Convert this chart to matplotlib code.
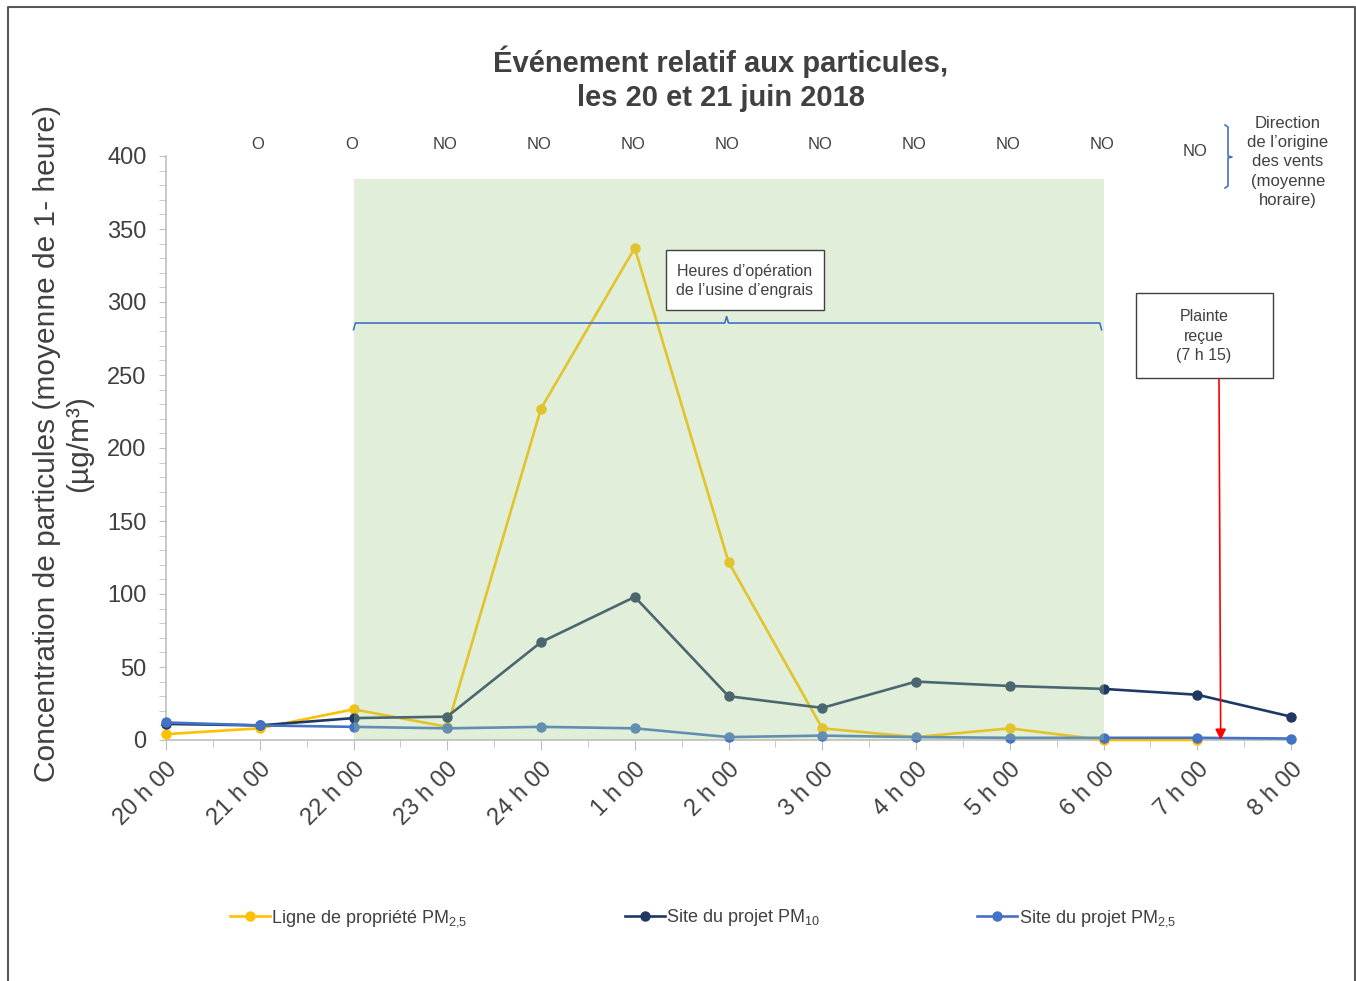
import numpy as np
import matplotlib
matplotlib.use("Agg")
import matplotlib.pyplot as plt
from matplotlib.patches import Rectangle
from matplotlib.lines import Line2D

plt.rcParams['font.family'] = ['Liberation Sans', 'DejaVu Sans']
plt.rcParams['mathtext.fontset'] = 'custom'
plt.rcParams['mathtext.rm'] = 'Liberation Sans'
plt.rcParams['mathtext.default'] = 'rm'

# heures de mesure
hours = ['20 h 00', '21 h 00', '22 h 00', '23 h 00', '24 h 00', '1 h 00', '2 h 00',
         '3 h 00', '4 h 00', '5 h 00', '6 h 00', '7 h 00', '8 h 00']
# direction de l'origine des vents
winds = ['', 'O', 'O', 'NO', 'NO', 'NO', 'NO', 'NO', 'NO', 'NO', 'NO', 'NO', '']

ligne_pm25 = [4, 8, 21, 9, 227, 337, 122, 8, 2, 8, 0, 0, np.nan]
site_pm10 = [11, 10, 15, 16, 67, 98, 30, 22, 40, 37, 35, 31, 16]
site_pm25 = [12, 10, 9, 8, 9, 8, 2, 3, 2, 1.5, 1.5, 1.5, 1]

ops_start, ops_end = 2, 10     # heures d'opération (22 h 00 a 6 h 00)
plainte = 11.25                # 7 h 15

TXT = '#404040'
W, H = 1356, 981


def fx(px):
    return px / W


def fy(py):
    return 1 - py / H


fig = plt.figure(figsize=(W / 100, H / 100), dpi=100)
ax = fig.add_axes([fx(166), fy(740), fx(1291) - fx(166), fy(156) - fy(740)])

x = np.arange(len(hours))
ax.plot(x, ligne_pm25, color='#FFC000', lw=1.9, marker='o', ms=6.5,
        label='Ligne de propriété PM$_{2{,}5}$', clip_on=False, zorder=3)
ax.plot(x, site_pm10, color='#203864', lw=1.9, marker='o', ms=6.5,
        label='Site du projet PM$_{10}$', clip_on=False, zorder=3)
ax.plot(x, site_pm25, color='#4472C4', lw=1.9, marker='o', ms=6.5,
        label='Site du projet PM$_{2{,}5}$', clip_on=False, zorder=3)

# zone verte semi-transparente
ax.add_patch(Rectangle((ops_start, 0), ops_end - ops_start, 384, facecolor='#A4CC8A',
                       alpha=0.32, edgecolor='none', zorder=4))

ax.set_xlim(0, 12)
ax.set_ylim(0, 400)
ax.set_yticks(np.arange(0, 401, 50))
ax.set_yticks(np.arange(0, 401, 10), minor=True)
ax.set_xticks(x)
ax.set_xticks(x[:-1] + 0.5, minor=True)
ax.set_xticklabels(hours, rotation=45, ha='right', va='top', rotation_mode='anchor')
ax.tick_params(axis='both', which='both', colors='#BFBFBF', labelcolor=TXT, labelsize=17)
ax.tick_params(axis='y', which='both', length=5, pad=9)
ax.tick_params(axis='x', which='major', length=7, pad=6)
ax.tick_params(axis='x', which='minor', length=5)
for s in ['top', 'right']:
    ax.spines[s].set_visible(False)
for s in ['left', 'bottom']:
    ax.spines[s].set_color('#BFBFBF')
    ax.spines[s].set_linewidth(1.2)

# directions des vents
for i, w in enumerate(winds):
    if w:
        yy = 403 if i == 11 else 408
        ax.text(i - 0.02, yy, w, ha='center', va='center', fontsize=12, color=TXT, clip_on=False)

# accolade horizontale des heures d'operation
bx = [2, 2.02, 5.96, 5.98, 6.0, 9.96, 9.98]
by = [281, 285.6, 285.6, 290, 285.6, 285.6, 281]
ax.plot(bx, by, color='#4472C4', lw=1.2, zorder=5)

# accolade verticale (directions)
fig.add_artist(Line2D([fx(1225), fx(1228), fx(1228), fx(1232), fx(1228), fx(1228), fx(1225)],
                      [fy(125), fy(127), fy(156), fy(157), fy(158), fy(186), fy(188)],
                      color='#4472C4', lw=1.2))
fig.text(fx(1288), fy(162), "Direction\nde l’origine\ndes vents\n(moyenne\nhoraire)",
         ha='center', va='center', fontsize=12, color=TXT, linespacing=1.35)

# encadre des heures d'operation
fig.add_artist(Rectangle((fx(666), fy(310)), fx(824) - fx(666), fy(250) - fy(310),
                         facecolor='white', edgecolor='#404040', lw=1, zorder=6))
fig.text(fx(745), fy(281), "Heures d’opération\nde l’usine d’engrais", ha='center', va='center',
         fontsize=11.5, color=TXT, linespacing=1.4, zorder=7)

# plainte recue
fig.add_artist(Rectangle((fx(1136), fy(378)), fx(1273) - fx(1136), fy(293) - fy(378),
                         facecolor='white', edgecolor='#404040', lw=1, zorder=6))
fig.text(fx(1204), fy(336), "Plainte\nreçue\n(7 h 15)", ha='center', va='center',
         fontsize=11.5, color=TXT, linespacing=1.35, zorder=7)
ax.annotate('', xy=(plainte, 0), xycoords='data', xytext=(fx(1219), fy(378)),
            textcoords='figure fraction',
            arrowprops=dict(arrowstyle='-|>', color='red', lw=1.2, mutation_scale=16,
                            shrinkA=0, shrinkB=0), zorder=6)

fig.text(fx(721), fy(78.5), "Événement relatif aux particules,\nles 20 et 21 juin 2018",
         ha='center', va='center', fontsize=21, fontweight='bold', color=TXT, linespacing=1.25)
fig.text(fx(63), fy(444), "Concentration de particules (moyenne de 1- heure)\n(µg/m³)",
         rotation=90, ha='center', va='center', fontsize=21.5, color=TXT, linespacing=1.15,
         multialignment='center')

fig.legend(loc='center', bbox_to_anchor=(fx(703), fy(918)), ncol=3, frameon=False,
           fontsize=13, handlelength=2.2, handletextpad=0.1, columnspacing=8.7,
           labelcolor=TXT)

# cadre
fig.add_artist(Line2D([fx(8), fx(8), fx(1355), fx(1355)], [fy(985), fy(7), fy(7), fy(985)],
                      color='#595959', lw=1.5))

fig.savefig('out.png', dpi=100)
